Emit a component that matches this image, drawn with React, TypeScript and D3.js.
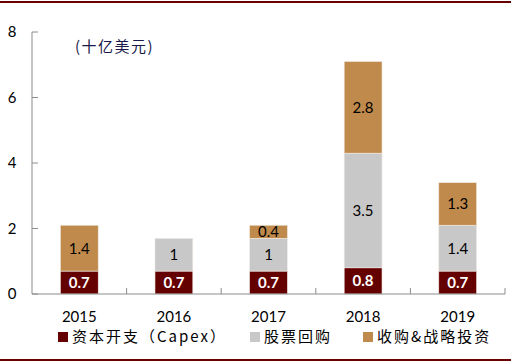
import React, { useEffect, useRef } from "react";
import * as d3 from "d3";

const years = ["2015", "2016", "2017", "2018", "2019"];
const capex = [0.7, 0.7, 0.7, 0.8, 0.7];
const buyback = [0, 1, 1, 3.5, 1.4];
const acquisition = [1.4, 0, 0.4, 2.8, 1.3];
const yTicks = [0, 2, 4, 6, 8];

const seriesNames = ["资本开支（Capex）", "股票回购", "收购&战略投资"];
const colors = ["#650000", "#c8c8c8", "#bf8a4c"];
const labelColors = ["#fff", "#000", "#000"];

const App = () => {
  const ref = useRef<SVGSVGElement>(null);

  useEffect(() => {
    const width = 511;
    const height = 363;
    const margin = { top: 32, right: 6, bottom: 69, left: 32 };

    const svg = d3.select(ref.current);
    svg.selectAll("*").remove();
    svg.attr("width", width).attr("height", height);

    const font = "Lato, 'Noto Sans CJK SC', sans-serif";
    const cjk = "'Noto Sans CJK SC', sans-serif";

    // frame lines
    svg.append("rect").attr("x", 0).attr("y", 1).attr("width", width).attr("height", 2).attr("fill", "#6b0000");
    svg.append("rect").attr("x", 0).attr("y", 359).attr("width", width).attr("height", 2).attr("fill", "#6b0000");

    const x = d3.scaleBand()
      .domain(years)
      .range([margin.left, width - margin.right])
      .padding(0);

    const y = d3.scaleLinear()
      .domain([0, 8])
      .range([height - margin.bottom, margin.top]);

    const barW = x.bandwidth() * 0.4;

    const series = [capex, buyback, acquisition];
    const rows = years.map((yr, i) => ({ year: yr, s0: capex[i], s1: buyback[i], s2: acquisition[i] }));
    const stack = d3.stack<any>().keys(["s0", "s1", "s2"]);
    const layers = stack(rows);

    layers.forEach((layer, li) => {
      const g = svg.append("g");
      layer.forEach((d, i) => {
        const v = series[li][i];
        if (v <= 0) return;
        const cx = x(years[i])! + x.bandwidth() / 2;
        g.append("rect")
          .attr("x", cx - barW / 2)
          .attr("y", y(d[1]))
          .attr("width", barW)
          .attr("height", y(d[0]) - y(d[1]))
          .attr("fill", colors[li])
          .attr("stroke", "#f0ebe6")
          .attr("stroke-width", 0.6);
        g.append("text")
          .attr("x", cx)
          .attr("y", (y(d[0]) + y(d[1])) / 2)
          .attr("dy", "0.36em")
          .attr("text-anchor", "middle")
          .attr("font-family", font)
          .attr("font-size", 15)
          .attr("font-weight", li === 0 ? "bold" : "normal")
          .attr("fill", labelColors[li])
          .text(String(v));
      });
    });

    // y axis
    const axisColor = "#8c8c8c";
    svg.append("line")
      .attr("x1", margin.left).attr("x2", margin.left)
      .attr("y1", y(8)).attr("y2", y(0))
      .attr("stroke", axisColor);
    yTicks.forEach((t) => {
      svg.append("line")
        .attr("x1", margin.left).attr("x2", margin.left + 6)
        .attr("y1", y(t)).attr("y2", y(t))
        .attr("stroke", axisColor);
      svg.append("text")
        .attr("x", 12)
        .attr("y", y(t))
        .attr("dy", "0.36em")
        .attr("text-anchor", "middle")
        .attr("font-family", font)
        .attr("font-size", 15)
        .attr("fill", "#000")
        .text(t);
    });

    // x axis
    svg.append("line")
      .attr("x1", margin.left).attr("x2", width - margin.right)
      .attr("y1", y(0)).attr("y2", y(0))
      .attr("stroke", axisColor);
    years.forEach((yr) => {
      const bx = x(yr)! + x.bandwidth();
      svg.append("line")
        .attr("x1", bx).attr("x2", bx)
        .attr("y1", y(0)).attr("y2", y(0) - 6)
        .attr("stroke", axisColor);
      svg.append("text")
        .attr("x", x(yr)! + x.bandwidth() / 2)
        .attr("y", 317)
        .attr("dy", "0.36em")
        .attr("text-anchor", "middle")
        .attr("font-family", font)
        .attr("font-size", 15)
        .attr("fill", "#000")
        .text(yr);
    });

    // unit label
    svg.append("text")
      .attr("x", 75)
      .attr("y", 47)
      .attr("dy", "0.36em")
      .attr("font-family", cjk)
      .attr("font-size", 15)
      .attr("letter-spacing", 1.5)
      .attr("fill", "#1a1a4a")
      .text("(十亿美元)");

    // legend
    const legendX = [58, 250, 363];
    seriesNames.forEach((name, i) => {
      svg.append("rect")
        .attr("x", legendX[i]).attr("y", 332)
        .attr("width", 10).attr("height", 10)
        .attr("fill", colors[i]);
      svg.append("text")
        .attr("x", legendX[i] + 14)
        .attr("y", 337)
        .attr("dy", "0.36em")
        .attr("font-family", cjk)
        .attr("font-size", 15)
        .attr("letter-spacing", 2)
        .attr("fill", "#000")
        .text(name);
    });
  }, []);

  return <svg ref={ref} style={{ position: "absolute", left: 0, top: 0 }}></svg>;
};

export default App;
